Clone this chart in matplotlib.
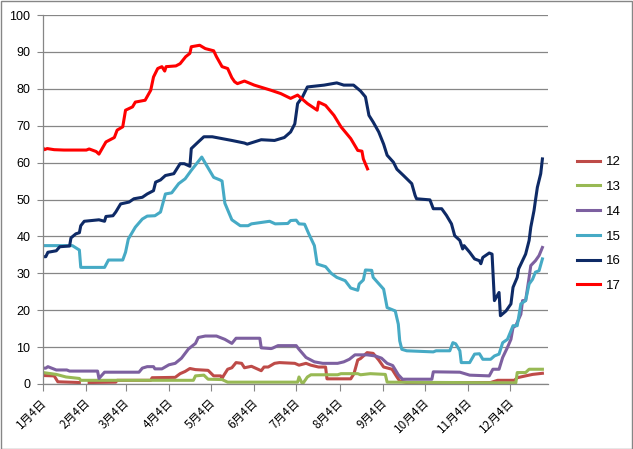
import numpy as np
import pandas as pd
from matplotlib import pyplot as plt
from matplotlib.patches import Rectangle
from matplotlib.transforms import ScaledTranslation

# day offset from Jan 4, value
s12 = [(0, 2.3), (8, 2.2), (10.6, 0.6), (26, 0.4), (27, np.nan), (33, 0.4), (52, 0.5), (53, 1.0),
       (77, 1.0), (78, 1.7), (94.5, 1.8), (98, 2.8), (101.6, 3.4), (105, 4.2), (109, 3.9),
       (118, 3.7), (122, 2.2), (127, 2.2), (128, 1.5), (129, 2.2), (132, 4.0), (135, 4.4),
       (138, 5.8), (142, 5.6), (144, 4.4), (149, 4.8), (156, 3.6), (158, 4.6), (161, 4.6),
       (165.5, 5.6), (169, 5.8), (180, 5.6), (183, 5.1), (188, 5.6), (191.5, 5.1), (197, 4.6),
       (202, 4.6), (203, 1.4), (220, 1.4), (222.3, 2.8), (225, 6.5), (227, 6.9), (231.7, 8.5),
       (236, 8.3), (240, 6.5), (243.5, 4.6), (249.5, 4.0), (253, 1.9), (255, 0.8), (260, 0.4),
       (320, 0.4), (325, 1.0), (337, 1.0), (339, 1.7), (345, 2.2), (350, 2.6), (357, 2.9)]

s13 = [(0, 3.1), (9.5, 2.6), (16.5, 1.9), (26, 1.5), (27, 1.0), (107.5, 1.0), (109, 2.2),
       (115, 2.4), (118, 1.3), (128, 1.2), (132, 0.5), (182, 0.5), (183, 1.9), (185.5, 0.0),
       (189, 1.9), (191.5, 2.5), (210.6, 2.5), (213, 2.8), (225, 2.8), (227, 2.5), (234, 2.8),
       (244.7, 2.6), (246, 0.5), (338, 0.3), (339, 3.1), (345, 3.1), (347.5, 4.0), (357, 4.0)]

s14 = [(0, 4.3), (2, 4.3), (3.5, 4.7), (9.5, 3.8), (17, 3.8), (19, 3.5), (39, 3.5), (40, 1.5),
       (44, 3.2), (68.6, 3.2), (71, 4.3), (74.5, 4.7), (79, 4.7), (80, 4.1), (85, 4.1), (90, 5.2),
       (94.5, 5.6), (99, 7.0), (104, 9.5), (109, 11.0), (111, 12.6), (116, 13.0), (124, 13.0),
       (130, 12.1), (135, 11.0), (138, 12.4), (155, 12.4), (156, 9.8), (163, 9.6), (164, 9.7),
       (168, 10.4), (181, 10.4), (183, 9.4), (188, 7.2), (194, 6.0), (200, 5.6), (210.6, 5.6),
       (215, 6.0), (219, 6.7), (223, 7.9), (231.7, 7.9), (237.6, 7.6), (242, 7.0), (246, 5.6),
       (250, 5.0), (254, 2.5), (257, 1.3), (278, 1.3), (279, 3.3), (298, 3.2), (305, 2.4),
       (319, 2.2), (321.6, 4.0), (326, 4.0), (328.6, 7.2), (332, 9.9), (334.5, 12.1), (336, 15.3),
       (338, 15.8), (341.6, 18.9), (342.8, 22.6), (345, 22.6), (347.5, 28.9), (348.7, 32.1),
       (352, 33.4), (354.6, 34.8), (357, 37.0)]

s15 = [(0, 37.5), (21, 37.5), (26, 36.3), (27, 31.6), (44, 31.6), (46.8, 33.6), (57, 33.6),
       (59, 35.7), (61, 39.3), (66, 42.5), (71, 44.7), (74.5, 45.5), (80, 45.6), (84, 46.6),
       (87.5, 51.5), (92, 51.8), (97, 54.3), (101.6, 55.6), (106, 57.9), (113.5, 61.5),
       (117, 59.2), (122, 56.0), (126.5, 55.3), (128, 55.0), (130, 49.0), (135, 44.5),
       (141, 42.9), (146.6, 42.9), (149, 43.4), (162, 44.1), (166, 43.4), (175, 43.5),
       (177, 44.3), (181, 44.4), (183, 43.4), (187, 43.3), (190, 40.7), (194, 37.5), (196, 32.5),
       (202, 31.8), (206, 30.0), (210, 28.9), (216, 28.0), (220, 26.0), (225, 25.4), (226, 27.1),
       (229, 28.2), (230.5, 30.9), (235, 30.8), (236, 28.9), (243.5, 25.7), (246, 20.7),
       (251.8, 19.8), (254, 16.2), (255, 11.7), (256.5, 9.4), (260, 9.0), (279, 8.7), (281, 9.0),
       (290.8, 9.0), (293, 11.2), (295, 10.9), (298, 9.0), (299, 5.8), (305, 5.8), (308.5, 8.1),
       (312, 8.2), (314.4, 6.7), (320, 6.7), (322.7, 7.6), (326, 8.1), (328.6, 11.2), (332, 12.1),
       (334.5, 14.4), (336, 15.8), (339, 15.8), (341.6, 21.7), (345, 22.6), (347.5, 27.1),
       (350, 28.4), (352, 30.3), (354.6, 30.7), (357, 33.9)]

s16 = [(0, 34.5), (2, 34.5), (3.5, 35.7), (9.5, 36.1), (12, 37.2), (19, 37.4), (20, 39.6),
       (23.5, 40.7), (26, 41.0), (27, 42.9), (29.5, 44.1), (40, 44.5), (44, 44.1), (45, 45.4),
       (50, 45.6), (52, 46.6), (55.5, 48.8), (61.5, 49.3), (65, 50.2), (71, 50.6), (74.5, 51.5),
       (79, 52.4), (80.5, 54.7), (84, 55.3), (87.5, 56.5), (93.5, 57.0), (98, 59.7), (101, 59.7),
       (105, 59.0), (106, 63.8), (111, 65.6), (115, 67.0), (121, 67.0), (135, 66.0), (144, 65.3),
       (146, 65.0), (156, 66.2), (165.5, 66.0), (172.5, 66.8), (177, 68.3), (180, 70.5),
       (182, 76.0), (185.5, 77.8), (189, 80.5), (201, 81.0), (210, 81.6), (215, 81.0), (222, 81.0),
       (227, 79.4), (230.5, 77.8), (233, 72.8), (236, 71.0), (240, 68.3), (243.5, 65.0),
       (246, 62.0), (250.5, 60.1), (253, 58.2), (257.7, 56.5), (263.6, 54.3), (266, 51.1),
       (267, 50.2), (276.6, 49.9), (279, 47.5), (285, 47.5), (288.4, 45.7), (292, 43.4),
       (294.3, 40.2), (298, 38.9), (300, 36.6), (301, 37.5), (305, 35.7), (308.5, 33.9),
       (312, 33.4), (313, 32.6), (314.4, 34.3), (319, 35.5), (321, 35.2), (322.7, 22.6),
       (326, 24.8), (327, 18.5), (331, 19.8), (334.5, 21.7), (336, 26.2), (339, 28.9), (340, 31.2),
       (345, 35.2), (347.5, 38.9), (348.7, 42.5), (351, 47.0), (352, 49.7), (353.4, 53.3),
       (355.8, 57.0), (357, 61.0)]

s17 = [(0, 64.0), (1, 63.5), (3, 63.8), (8, 63.5), (15, 63.4), (31, 63.4), (33, 63.7), (38, 63.0),
       (40, 62.3), (45, 65.6), (51, 66.8), (53, 68.8), (57, 69.7), (59, 74.2), (64, 75.1),
       (66, 76.4), (73, 76.9), (77, 79.6), (79, 83.2), (82, 85.5), (85, 86.0), (87, 84.8),
       (88, 86.0), (95, 86.2), (98, 86.8), (102, 88.7), (105, 89.6), (106, 91.4), (112, 91.8),
       (116, 90.9), (122, 90.3), (124, 88.7), (128, 86.0), (132, 85.5), (135, 83.0), (137, 81.9),
       (139, 81.4), (144, 82.1), (151, 81.0), (163, 79.6), (170, 78.7), (177, 77.4), (182, 78.3),
       (189, 76.0), (196, 74.2), (197, 76.4), (202, 75.5), (208, 72.8), (213, 69.7), (220, 66.5),
       (225, 63.3), (228, 63.1), (229, 61.0), (232, 58.3)]

series_names = ["12", "13", "14", "15", "16", "17"]
colors = ["#BE4B48", "#98B954", "#7D60A0", "#46AAC5", "#0E2A66", "#FF0000"]

start = pd.Timestamp("2015-01-04")
tick_dates = pd.date_range(start, periods=12, freq=pd.DateOffset(months=1))
tick_pos = [(d - start).days for d in tick_dates]
tick_labels = [f"{d.month}月{d.day}日" for d in tick_dates]

fig = plt.figure(figsize=(6.33, 4.49), dpi=100)
ax = fig.add_axes([43 / 633, 65 / 449, 505 / 633, 369 / 449])

for name, data, c in zip(series_names, [s12, s13, s14, s15, s16, s17], colors):
    d = np.array(data, dtype=float)
    ax.plot(d[:, 0], d[:, 1], color=c, lw=2.2, label=name, solid_joinstyle="round")

ax.set_xlim(0, 361)
ax.set_ylim(0, 100)
ax.set_yticks(np.arange(0, 101, 10))
ax.grid(True, axis="y", color="#868686", lw=0.9)
ax.set_axisbelow(True)
for s in ["top", "right"]:
    ax.spines[s].set_visible(False)
for s in ["left", "bottom"]:
    ax.spines[s].set_color("#868686")
    ax.spines[s].set_linewidth(0.9)
ax.tick_params(axis="y", length=4, color="#868686", labelsize=9, pad=5)
ax.tick_params(axis="x", length=5, color="#868686", pad=7)
for lbl in ax.get_yticklabels():
    lbl.set_family("Liberation Sans")

ax.set_xticks(tick_pos)
ax.set_xticklabels(tick_labels, rotation=45, ha="right", va="center", rotation_mode="anchor",
                   family=["Noto Sans CJK SC", "DejaVu Sans"], fontsize=8.5)
shift = ScaledTranslation(2 / 100, 0, fig.dpi_scale_trans)
for lbl in ax.get_xticklabels():
    lbl.set_transform(lbl.get_transform() + shift)

fig.legend(loc="center left", bbox_to_anchor=(577 / 633, 1 - 224 / 449), frameon=False,
           borderpad=0, borderaxespad=0,
           handlelength=1.75, handletextpad=0.45, labelspacing=0.95,
           prop={"family": "Liberation Sans", "size": 9.5})

fig.add_artist(Rectangle((0.001, 0.001), 0.997, 0.996, transform=fig.transFigure,
                         fill=False, edgecolor="#868686", lw=1))

fig.savefig("out.png", dpi=100)
